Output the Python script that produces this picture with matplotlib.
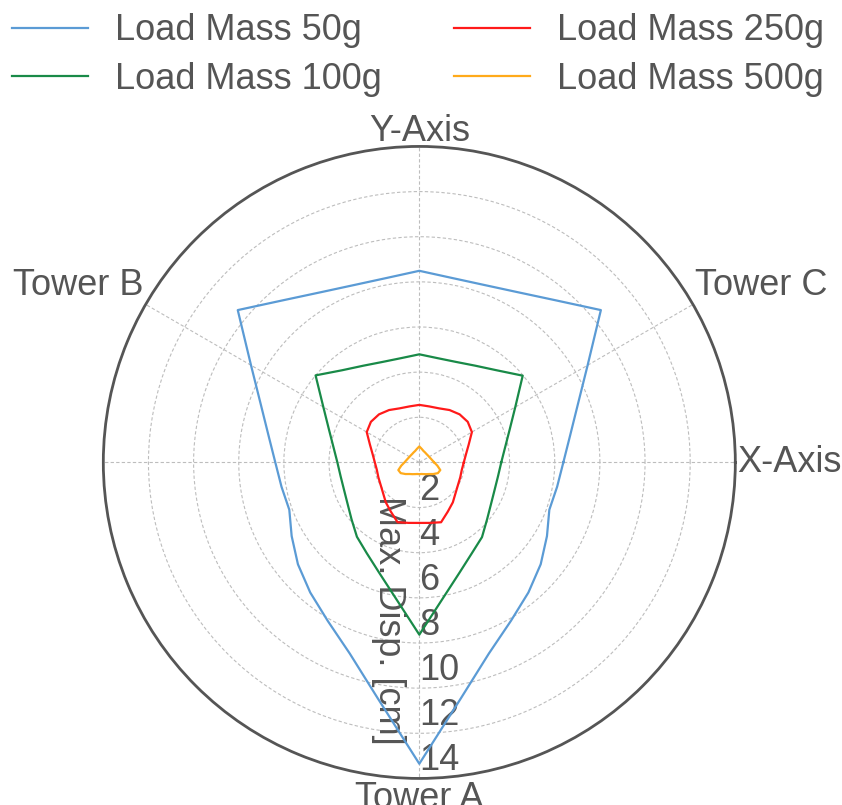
import matplotlib.pyplot as plt
import numpy as np

plt.rcParams['font.family'] = ['Liberation Sans', 'DejaVu Sans']
plt.rcParams['font.size'] = 26
text_color = '#555555'

# direction of measurement [deg], every 10 degrees
angles_deg = np.arange(0, 360, 10)

# max. displacement [cm] per direction, one list per load mass
disp_50g = [6.38, 6.78, 7.47, 8.61, 10.50, 9.38, 8.71, 8.37, 8.30, 8.49,
            8.30, 8.37, 8.71, 9.38, 10.50, 8.61, 7.47, 6.78, 6.38, 6.20,
            6.13, 6.53, 7.02, 7.52, 8.11, 9.01, 10.61, 13.35, 10.61, 9.01,
            8.11, 7.52, 7.02, 6.53, 6.13, 6.20]
disp_100g = [3.63, 3.86, 4.26, 4.91, 5.98, 5.33, 4.95, 4.74, 4.69, 4.79,
             4.69, 4.74, 4.95, 5.33, 6.00, 4.91, 4.26, 3.86, 3.63, 3.54,
             3.55, 3.67, 3.92, 4.30, 4.65, 5.20, 6.09, 7.63, 6.09, 5.20,
             4.65, 4.32, 3.92, 3.67, 3.55, 3.54]
disp_250g = [1.97, 2.10, 2.33, 2.69, 2.80, 2.78, 2.68, 2.55, 2.52, 2.55,
             2.52, 2.55, 2.68, 2.78, 2.80, 2.69, 2.33, 2.10, 1.97, 1.91,
             1.93, 1.98, 2.10, 2.31, 2.52, 2.82, 2.72, 2.68, 2.72, 2.82,
             2.52, 2.31, 2.10, 1.98, 1.93, 1.91]
disp_500g = [0.66, 0.58, 0.53, 0.50, 0.49, 0.49, 0.51, 0.54, 0.61, 0.71,
             0.61, 0.54, 0.51, 0.49, 0.49, 0.50, 0.53, 0.58, 0.66, 0.81,
             0.99, 0.95, 0.80, 0.67, 0.60, 0.55, 0.52, 0.52, 0.52, 0.55,
             0.60, 0.67, 0.80, 0.95, 0.99, 0.81]

series_labels = ['Load Mass 50g', 'Load Mass 100g', 'Load Mass 250g', 'Load Mass 500g']
series_colors = ['#5b9bd5', '#198a48', '#ff1a1a', '#ffaa1a']

theta_ticks = [0, 30, 90, 150, 180, 270]
theta_labels = ['X-Axis', 'Tower C', 'Y-Axis', 'Tower B', '', 'Tower A']
r_ticks = [2, 4, 6, 8, 10, 12, 14]

fig = plt.figure(figsize=(8.42, 8.05), dpi=100)
ax = fig.add_axes([0.1227, 0.0330, 0.7506, 0.7851], projection='polar')

theta = np.deg2rad(np.append(angles_deg, angles_deg[0]))
all_disp = [disp_50g, disp_100g, disp_250g, disp_500g]
for disp, lab, col in zip(all_disp, series_labels, series_colors):
    r = np.append(disp, disp[0])
    ax.plot(theta, r, color=col, lw=1.6, label=lab)

ax.set_ylim(0, 14)
ax.set_rgrids(r_ticks, [str(t) for t in r_ticks], color=text_color)
ax.set_rlabel_position(270)
ax.set_xticks(np.deg2rad(theta_ticks))
ax.set_xticklabels(theta_labels, color=text_color)
ax.tick_params(axis='x', pad=-9)

# anchor the direction labels on the outer circle
align = {0: ('left', 'center'), 30: ('left', 'bottom'), 90: ('center', 'bottom'),
         150: ('right', 'bottom'), 180: ('right', 'center'), 270: ('center', 'top')}
for t, tick, lbl in zip(theta_ticks, ax.xaxis.get_major_ticks(), ax.get_xticklabels()):
    lbl.set_ha(align[t][0])
    lbl.set_va(align[t][1])
    if t == 90:
        tick.set_pad(-12.5)

ax.grid(True, color='#bdbdbd', lw=0.8, ls=(0, (3, 2)))
ax.spines['polar'].set_color('#555555')
ax.spines['polar'].set_linewidth(2)

ax.set_ylabel('Max. Disp. [cm]', rotation=270, color=text_color, ha='center', va='center')
ax.yaxis.set_label_coords(0.4505, 0.2506)

fig.legend(loc='upper left', bbox_to_anchor=(-0.024, 1.024), ncol=2, frameon=False,
           handlelength=2.1, handletextpad=0.75, columnspacing=2.0,
           labelspacing=0.38, labelcolor=text_color)

fig.savefig('out.png', dpi=100)
